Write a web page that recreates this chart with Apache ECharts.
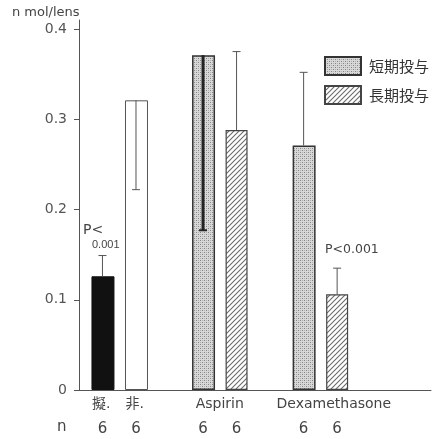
<!DOCTYPE html>
<html><head><meta charset="utf-8">
<script src="https://cdn.jsdelivr.net/npm/echarts@6/dist/echarts.min.js"></script>
<style>html,body{margin:0;padding:0;background:#fff}#c{width:433px;height:439px}</style>
</head><body><div id="c"></div>
<script>
// ---- data ----
const groupLabels = ['擬.', '非.', 'Aspirin', 'Dexamethasone'];
const legendNames = ['短期投与', '長期投与'];
const controlMeans = [0.126, 0.321];          // 擬., 非.
const controlErrEnds = [0.149, 0.222];
const shortMeans = [0.371, 0.271];            // Aspirin, Dexamethasone
const shortErrEnds = [0.177, 0.352];
const longMeans = [0.288, 0.106];
const longErrEnds = [0.375, 0.135];
const nCounts = [6, 6, 6, 6, 6, 6];
const yTicks = [0, 0.1, 0.2, 0.3, 0.4];
const pNotes = ['P<', '0.001', 'P<0.001'];
const yUnit = 'n mol/lens';

// ---- layout (axis-domain positions) ----
const controlPos = [0.7, 1.7];
const shortPos = [3.7, 6.7];
const longPos = [4.7, 7.7];
const allPos = [0.7, 1.7, 3.7, 4.7, 6.7, 7.7];
const groupLabelPos = [0.66, 1.66, 4.2, 7.6];

const FONT = "'DejaVu Sans','Noto Sans CJK JP',sans-serif";

function dotPattern() {
  const c = document.createElement('canvas'); c.width = 4; c.height = 4;
  const g = c.getContext('2d');
  g.fillStyle = '#d8d8d8'; g.fillRect(0, 0, 4, 4);
  g.fillStyle = '#858585';
  g.fillRect(0, 0, 1, 1); g.fillRect(2, 2, 1, 1);
  g.fillStyle = '#b0b0b0';
  g.fillRect(2, 0, 1, 1); g.fillRect(0, 2, 1, 1);
  return c;
}
function hatchPattern() {
  const s = 5;
  const c = document.createElement('canvas'); c.width = s; c.height = s;
  const g = c.getContext('2d');
  g.fillStyle = '#ffffff'; g.fillRect(0, 0, s, s);
  g.strokeStyle = '#6a6a6a'; g.lineWidth = 1.1;
  g.beginPath();
  g.moveTo(0, s); g.lineTo(s, 0);
  g.moveTo(-1, 1); g.lineTo(1, -1);
  g.moveTo(s - 1, s + 1); g.lineTo(s + 1, s - 1);
  g.stroke();
  return c;
}
const dots = { image: dotPattern(), repeat: 'repeat' };
const hatch = { image: hatchPattern(), repeat: 'repeat' };

const zip = (xs, ys) => xs.map((x, i) => [x, ys[i]]);

const errData = [
  [controlPos[0], controlMeans[0], controlErrEnds[0], 1],
  [controlPos[1], controlMeans[1], controlErrEnds[1], 1],
  [shortPos[0], shortMeans[0], shortErrEnds[0], 3],
  [longPos[0], longMeans[0], longErrEnds[0], 1],
  [shortPos[1], shortMeans[1], shortErrEnds[1], 1],
  [longPos[1], longMeans[1], longErrEnds[1], 1]
];

const chart = echarts.init(document.getElementById('c'));
chart.setOption({
  animation: false,
  backgroundColor: '#fff',
  textStyle: { fontFamily: FONT },
  grid: { left: 79, right: 2, top: 20, bottom: 49 },
  legend: {
    data: legendNames, orient: 'vertical', left: 324, top: 56, icon: 'rect',
    itemWidth: 36, itemHeight: 18, itemGap: 9, padding: 0,
    textStyle: { fontSize: 15, color: '#333', fontFamily: "'Noto Sans CJK JP',sans-serif", padding: [0, 0, 0, 3] },
    selectedMode: false
  },
  xAxis: [{
    type: 'value', min: 0, max: 10.5, position: 'bottom',
    axisLine: { lineStyle: { color: '#555', width: 1 } },
    axisTick: { show: false }, splitLine: { show: false },
    axisLabel: {
      customValues: groupLabelPos, margin: 7, fontSize: 14, color: '#444',
      fontFamily: FONT,
      formatter: v => { const i = groupLabelPos.findIndex(p => Math.abs(p - v) < 1e-6); return i >= 0 ? groupLabels[i] : ''; }
    }
  }, {
    type: 'value', min: 0, max: 10.5, position: 'bottom', offset: 25,
    axisLine: { show: false }, axisTick: { show: false }, splitLine: { show: false },
    axisLabel: {
      customValues: allPos, margin: 7, fontSize: 15, color: '#444',
      formatter: v => { const i = allPos.findIndex(p => Math.abs(p - v) < 1e-6); return i >= 0 ? String(nCounts[i]) : ''; }
    }
  }],
  yAxis: {
    type: 'value', min: 0, max: 0.41,
    axisLine: { show: true, lineStyle: { color: '#555', width: 1 } },
    axisTick: { show: true, customValues: yTicks, length: 5, lineStyle: { color: '#555' } },
    splitLine: { show: false },
    axisLabel: {
      customValues: yTicks, margin: 12, fontSize: 14, color: '#555',
      formatter: v => v === 0 ? '0' : v.toFixed(1)
    }
  },
  series: [
    { type: 'bar', name: '擬', data: [zip(controlPos, controlMeans)[0]], barWidth: 23, barGap: '-100%',
      itemStyle: { color: '#111', borderColor: '#111', borderWidth: 1 } },
    { type: 'bar', name: '非', data: [zip(controlPos, controlMeans)[1]], barWidth: 23, barGap: '-100%',
      itemStyle: { color: '#fff', borderColor: '#555', borderWidth: 1 } },
    { type: 'bar', name: legendNames[0], data: zip(shortPos, shortMeans), barWidth: 23, barGap: '-100%',
      itemStyle: { color: dots, borderColor: '#333', borderWidth: 1.5 } },
    { type: 'bar', name: legendNames[1], data: zip(longPos, longMeans), barWidth: 22, barGap: '-100%',
      itemStyle: { color: hatch, borderColor: '#444', borderWidth: 1.2 } },
    { type: 'custom', name: 'err', data: errData, z: 5,
      renderItem: (params, api) => {
        const x = api.value(0), m = api.value(1), e = api.value(2), w = api.value(3);
        const p0 = api.coord([x, m]), p1 = api.coord([x, e]);
        const color = w > 1 ? '#222' : '#555';
        return { type: 'group', children: [
          { type: 'line', shape: { x1: p0[0], y1: p0[1], x2: p1[0], y2: p1[1] }, style: { stroke: color, lineWidth: w } },
          { type: 'line', shape: { x1: p1[0] - 4, y1: p1[1], x2: p1[0] + 4, y2: p1[1] }, style: { stroke: color, lineWidth: Math.max(1, w - 1) } }
        ]};
      } }
  ],
  graphic: [
    { type: 'text', left: 12, top: 6, style: { text: yUnit, font: "13px " + FONT, fill: '#444' } },
    { type: 'text', left: 57, top: 420, style: { text: 'n', font: "15px " + FONT, fill: '#444' } },
    { type: 'text', left: 83, top: 223, style: { text: pNotes[0], font: "14px " + FONT, fill: '#444' } },
    { type: 'text', left: 92, top: 239, style: { text: pNotes[1], font: "11px 'Liberation Sans',sans-serif", fill: '#444' } },
    { type: 'text', left: 325, top: 243, style: { text: pNotes[2], font: "12.5px " + FONT, fill: '#444' } }
  ]
});
</script></body></html>
